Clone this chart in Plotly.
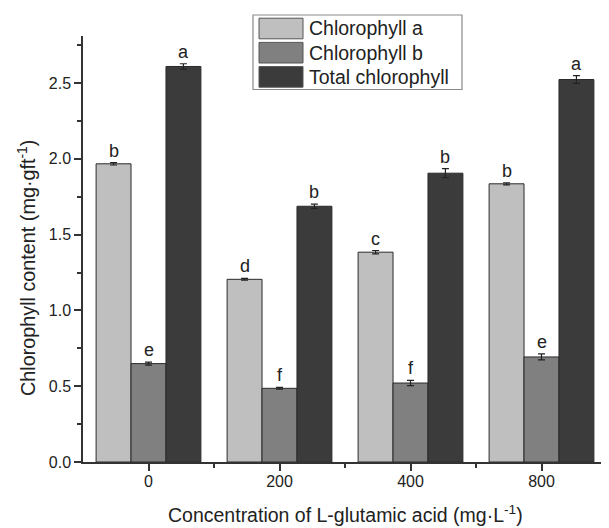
import plotly.graph_objects as go

# ---- data ----
concentrations = ["0", "200", "400", "800"]
series_names = ["Chlorophyll a", "Chlorophyll b", "Total chlorophyll"]
chl_a = [1.967, 1.205, 1.384, 1.835]
chl_a_err = [0.008, 0.006, 0.011, 0.007]
chl_a_letters = ["b", "d", "c", "b"]
chl_b = [0.649, 0.486, 0.521, 0.693]
chl_b_err = [0.010, 0.006, 0.017, 0.020]
chl_b_letters = ["e", "f", "f", "e"]
total = [2.609, 1.687, 1.905, 2.523]
total_err = [0.018, 0.014, 0.030, 0.025]
total_letters = ["a", "b", "b", "a"]
x_title = "Concentration of L-glutamic acid (mg·L<sup>-1</sup>)"
y_title = "Chlorophyll content (mg·gft<sup>-1</sup>)"

values = [chl_a, chl_b, total]
errors = [chl_a_err, chl_b_err, total_err]
letters = [chl_a_letters, chl_b_letters, total_letters]
colors = ["#bfbfbf", "#808080", "#3b3b3b"]

# page is offset by the browser's default 8px body margin
OFF = 8
W, H = 609 - OFF, 528 - OFF
ML, MR, MT, MB = 83 - OFF, 2, 36 - OFF, 66
FONT = "Liberation Sans, Arial, sans-serif"
TXT = "#222222"

group_w = 0.8
bw = group_w / len(values)
xs = list(range(len(concentrations)))

fig = go.Figure()
for i, (name, vals, errs) in enumerate(zip(series_names, values, errors)):
    off = -group_w / 2 + i * bw
    fig.add_trace(go.Bar(
        name=name, x=xs, y=vals, width=bw, offset=off,
        marker=dict(color=colors[i], line=dict(color="#2a2a2a", width=1)),
        error_y=dict(type="data", array=errs, visible=True, color="#222222",
                     thickness=1.2, width=3.5),
        showlegend=False,
    ))
    for j, x in enumerate(xs):
        fig.add_annotation(
            x=x + off + bw / 2, y=vals[j] + errs[j], text=letters[i][j],
            xref="x", yref="y", showarrow=False, yanchor="bottom", yshift=0,
            font=dict(family=FONT, size=18, color=TXT))

# ---- page-pixel layout converted to paper coords ----
pw, ph = W - ML - MR, H - MT - MB
def px(x):
    return (x - OFF - ML) / pw
def py(y):
    return 1 - (y - OFF - MT) / ph

# custom legend
fig.add_shape(type="rect", xref="paper", yref="paper",
              x0=px(253), x1=px(462), y0=py(15), y1=py(89.5),
              line=dict(color="#8a8a8a", width=1.2), fillcolor="white", layer="above")
for i, name in enumerate(series_names):
    cy = 28.5 + i * 24.2
    fig.add_shape(type="rect", xref="paper", yref="paper",
                  x0=px(259), x1=px(303), y0=py(cy - 10.3), y1=py(cy + 10.3),
                  line=dict(color="#555555", width=1), fillcolor=colors[i], layer="above")
    fig.add_annotation(x=px(307), y=py(cy), xref="paper", yref="paper",
                       text=name, showarrow=False, xanchor="left", yanchor="middle",
                       font=dict(family=FONT, size=19.5, color=TXT))

# axis titles
fig.add_annotation(x=px(345), y=py(514), xref="paper", yref="paper", text=x_title,
                   showarrow=False, xanchor="center", yanchor="middle",
                   font=dict(family=FONT, size=19.5, color=TXT))
fig.add_annotation(x=px(26), y=py(268), xref="paper", yref="paper", text=y_title,
                   showarrow=False, xanchor="center", yanchor="middle", textangle=-90,
                   font=dict(family=FONT, size=19.8, color=TXT))

fig.update_layout(
    width=W, height=H,
    margin=dict(l=ML, r=MR, t=MT, b=MB, pad=0, autoexpand=False),
    paper_bgcolor="white", plot_bgcolor="white",
    font=dict(family=FONT, color=TXT, size=16),
    barmode="overlay",
    xaxis=dict(
        range=[-0.5, 3.5], tickmode="array", tickvals=xs, ticktext=concentrations,
        showline=True, linecolor="#333333", linewidth=1.5, mirror=False,
        ticks="outside", ticklen=7, tickwidth=1.5, tickcolor="#333333",
        ticklabelstandoff=-3,
        showgrid=False, zeroline=False, automargin=False,
        tickfont=dict(family=FONT, size=16, color=TXT),
        minor=dict(tickmode="array", tickvals=[0.5, 1.5, 2.5, 3.5],
                   ticks="outside", ticklen=4, tickwidth=1.5, tickcolor="#333333",
                   showgrid=False),
    ),
    yaxis=dict(
        range=[0, 2.81], tickmode="linear", tick0=0, dtick=0.5, tickformat=".1f",
        showline=True, linecolor="#333333", linewidth=1.5,
        ticks="outside", ticklen=7, tickwidth=1.5, tickcolor="#333333",
        showgrid=False, zeroline=False, automargin=False,
        tickfont=dict(family=FONT, size=16, color=TXT),
        minor=dict(dtick=0.25, tick0=0, ticks="outside", ticklen=4, tickwidth=1.5,
                   tickcolor="#333333", showgrid=False),
    ),
)

fig.write_html("out.html")
